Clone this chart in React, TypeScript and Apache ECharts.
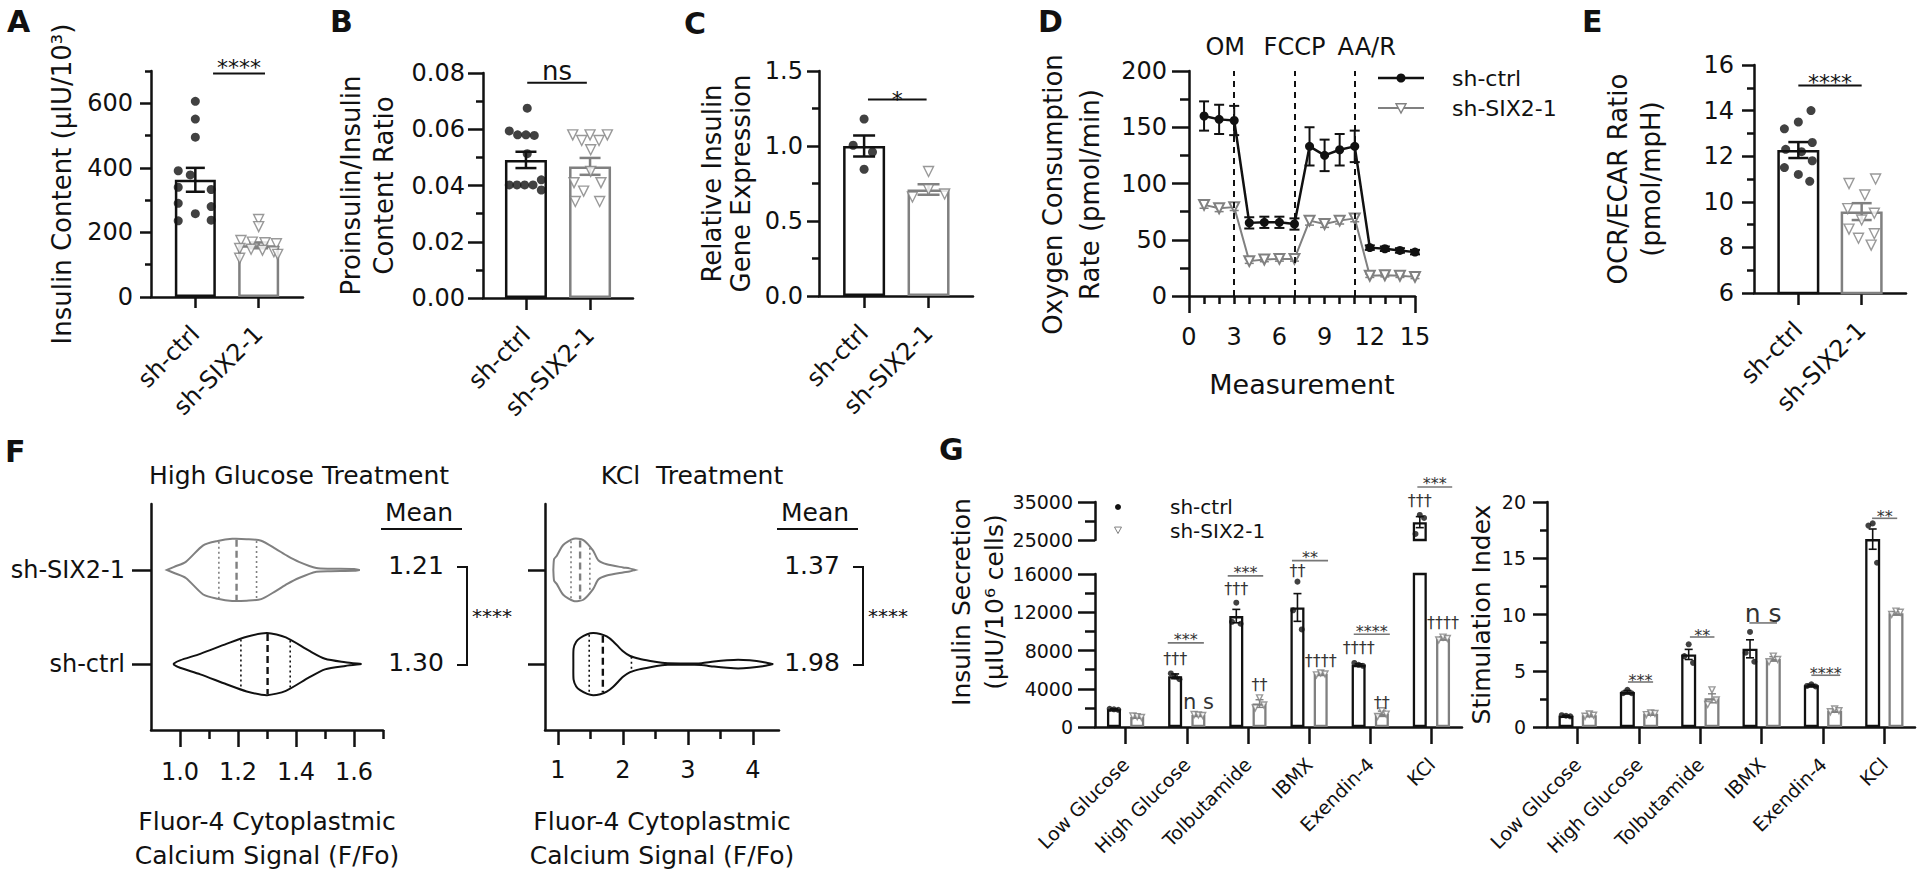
import React, { useEffect, useRef } from 'react';
import * as echarts from 'echarts';

const FONT = 'DejaVu Sans';
const BLACK = '#111111';
const GREY = '#808080';
const SIGGREY = '#777777';

type Sig = [number, number, number, string];
type Tag = [number, number, string];

// ---------- shared ----------
const groups = ['sh-ctrl', 'sh-SIX2-1'];
const groupIdx = [0, 1];

// ---------- A ----------
const aYName = 'Insulin Content (μIU/10³)';
const aYMajor = [0, 200, 400, 600];
const aYMinor = [100, 300, 500, 700];
const aMean = [363, 160];
const aSem = [37, 9];
const aCtrl = [606, 551, 495, 391, 378, 340, 333, 290, 280, 258, 236, 238];
const aCtrlJit = [0, 0, 0, -0.27, -0.08, -0.27, 0.25, -0.27, 0.25, 0, -0.27, 0.25];
const aKd = [240, 218, 175, 170, 168, 165, 150, 148, 145, 140, 132, 120];
const aKdJit = [0, 0, -0.28, -0.1, 0.1, 0.28, -0.3, -0.12, 0.06, 0.24, 0.3, -0.3];
const aSig: Sig[] = [[0.28, 1.1, 692, '****']];

// ---------- B ----------
const bYName = 'Proinsulin/Insulin\nContent Ratio';
const bYMajor = [0, 0.02, 0.04, 0.06, 0.08];
const bYMinor = [0.01, 0.03, 0.05, 0.07];
const bMean = [0.0491, 0.0468];
const bSem = [0.0029, 0.003];
const bCtrl = [0.0675, 0.0594, 0.058, 0.058, 0.0578, 0.0513, 0.0402, 0.0402, 0.0402, 0.0402, 0.042, 0.0384];
const bCtrlJit = [0.02, -0.26, -0.13, 0.0, 0.13, 0.02, -0.26, -0.14, -0.02, 0.11, 0.24, 0.24];
const bKd = [0.058, 0.058, 0.058, 0.056, 0.056, 0.0527, 0.045, 0.041, 0.041, 0.038, 0.0343, 0.0343];
const bKdJit = [-0.27, 0.0, 0.27, -0.13, 0.14, 0.01, 0.01, -0.25, 0.17, -0.1, -0.23, 0.15];
const bSig: Sig[] = [[0.02, 0.95, 0.0765, 'ns']];

// ---------- C ----------
const cYName = 'Relative Insulin\nGene Expression';
const cYMajor = [0, 0.5, 1.0, 1.5];
const cYMinor = [0.25, 0.75, 1.25];
const cMean = [1.0, 0.71];
const cSem = [0.07, 0.035];
const cCtrl = [1.18, 1.005, 0.96, 0.845];
const cCtrlJit = [0.0, -0.17, 0.13, 0.0];
const cKd = [0.83, 0.71, 0.66, 0.68];
const cKdJit = [0.0, 0.0, -0.25, 0.25];
const cSig: Sig[] = [[0.06, 0.97, 1.31, '*']];

// ---------- D ----------
const dYName = 'Oxygen Consumption\nRate (pmol/min)';
const dXName = 'Measurement';
const dX = [1, 2, 3, 4, 5, 6, 7, 8, 9, 10, 11, 12, 13, 14, 15];
const dXLabels = [0, 3, 6, 9, 12, 15];
const dYMajor = [0, 50, 100, 150, 200];
const dYMinor = [25, 75, 125, 175];
const dCtrl = [160, 157, 156, 65, 65.5, 65.5, 64, 133, 125, 130, 133, 43, 42, 40.5, 39];
const dCtrlSem = [13, 13, 13, 5, 5, 5, 5, 17, 14, 14, 14, 2, 2, 2, 2];
const dKd = [81, 78, 79, 31, 32.5, 33, 33, 67, 64, 67, 69, 18, 18.5, 18, 17];
const dKdSem = [3, 3, 3, 2, 2, 2, 2, 4, 3, 3, 3, 1.5, 1.5, 1.5, 1.5];
const dEventX = [3, 7, 11];
const dEventNames = ['OM', 'FCCP', 'AA/R'];

// ---------- E ----------
const eYName = 'OCR/ECAR Ratio\n(pmol/mpH)';
const eYMajor = [6, 8, 10, 12, 14, 16];
const eYMinor = [7, 9, 11, 13, 15];
const eMean = [12.27, 9.57];
const eSem = [0.35, 0.37];
const eCtrl = [14.0, 13.5, 13.2, 12.6, 12.3, 12.2, 11.8, 11.5, 11.2, 10.9];
const eCtrlJit = [0.2, 0.0, -0.22, 0.22, -0.2, 0.05, 0.22, -0.22, 0.0, 0.18];
const eKd = [11.0, 10.8, 10.3, 9.7, 9.5, 9.2, 8.8, 8.6, 8.4, 8.1];
const eKdJit = [0.22, -0.2, 0.05, -0.22, 0.2, 0.0, -0.2, 0.2, -0.05, 0.15];
const eSig: Sig[] = [[0.0, 1.0, 15.1, '****']];

// ---------- F ----------
const fXName = 'Fluor-4 Cytoplastmic\nCalcium Signal (F/Fo)';
const fHgTitle = 'High Glucose Treatment';
const fKclTitle = 'KCl  Treatment';
const fHgXMajor = [1.0, 1.2, 1.4, 1.6];
const fHgXMinor = [1.1, 1.3, 1.5, 1.7];
const fKclXMajor = [1, 2, 3, 4];
const fKclXMinor = [1.5, 2.5, 3.5];
const fHgKdX = [0.955, 0.98, 1.02, 1.08, 1.13, 1.18, 1.23, 1.28, 1.33, 1.37, 1.41, 1.47, 1.52, 1.6, 1.62];
const fHgKdW = [0, 0.1, 0.26, 0.79, 0.93, 1, 0.99, 0.94, 0.68, 0.45, 0.26, 0.06, 0.04, 0.03, 0];
const fHgKdQ = [1.134, 1.195, 1.264];
const fHgCtrlX = [0.979, 1.0, 1.07, 1.16, 1.23, 1.3, 1.365, 1.445, 1.5, 1.57, 1.626];
const fHgCtrlW = [0.02, 0.12, 0.33, 0.65, 0.88, 1, 0.86, 0.43, 0.17, 0.06, 0];
const fHgCtrlQ = [1.21, 1.302, 1.38];
const fHgMean = [1.3, 1.21];
const fKclKdX = [0.928, 0.94, 0.98, 1.08, 1.24, 1.39, 1.54, 1.62, 1.75, 2.0, 2.1, 2.185];
const fKclKdW = [0, 0.35, 0.45, 0.8, 1, 0.96, 0.62, 0.31, 0.18, 0.08, 0.05, 0];
const fKclKdQ = [1.2, 1.34, 1.49];
const fKclCtrlX = [1.236, 1.24, 1.28, 1.34, 1.45, 1.54, 1.65, 1.75, 1.85, 2.0, 2.11, 2.25, 2.42, 2.6, 2.69, 2.9, 3.1, 3.21, 3.4, 3.6, 3.77, 3.95, 4.15, 4.31];
const fKclCtrlW = [0, 0.5, 0.72, 0.84, 0.96, 1, 0.97, 0.89, 0.73, 0.41, 0.26, 0.17, 0.1, 0.04, 0.025, 0.02, 0.02, 0.03, 0.08, 0.12, 0.14, 0.12, 0.07, 0];
const fKclCtrlQ = [1.48, 1.69, 2.13];
const fKclMean = [1.98, 1.37];
const fStars = '****';

// ---------- G ----------
const gCats = ['Low Glucose', 'High Glucose', 'Tolbutamide', 'IBMX', 'Exendin-4', 'KCl'];
const gCatIdx = [0, 1, 2, 3, 4, 5];
const gSecName = 'Insulin Secretion\n(μIU/10⁶ cells)';
const gSecUpperMajor = [25000, 35000];
const gSecUpperMinor = [30000];
const gSecMajor = [0, 4000, 8000, 12000, 16000];
const gSecMinor = [2000, 6000, 10000, 14000];
const gSecCtrl = [1850, 5300, 11600, 12500, 6500, 29700];
const gSecCtrlSem = [50, 250, 700, 1450, 100, 1450];
const gSecKd = [1080, 1250, 2450, 5550, 1380, 9250];
const gSecKdSem = [90, 90, 400, 90, 280, 150];
const gSecCtrlPts = [[1900, 1850, 1800], [5600, 5300, 5000], [11000, 13000, 10800], [12200, 15200, 10200], [6700, 6500, 6400], [26600, 31600, 30800]];
const gSecKdPts = [[1150, 1080, 1000], [1300, 1250, 1200], [2000, 3050, 2300], [5450, 5650, 5550], [1100, 1700, 1350], [9100, 9400, 9250]];
const gSecSig: Sig[] = [[0.69, 1.28, 8800, '***'], [1.67, 2.25, 15800, '***'], [2.72, 3.31, 17400, '**'], [3.73, 4.32, 9700, '****'], [4.77, 5.34, 38950, '***']];
const gSecTags: Tag[] = [[0.81, 7200, '†††'], [1.81, 14500, '†††'], [2.19, 4400, '††'], [2.81, 16400, '††'], [3.19, 7000, '††††'], [3.81, 8300, '††††'], [4.19, 2600, '††'], [4.81, 35500, '†††'], [5.19, 10900, '††††']];
const gSecNs: Tag[] = [[1.19, 2600, 'n s']];
const gStimName = 'Stimulation Index';
const gStimMajor = [0, 5, 10, 15, 20];
const gStimMinor = [2.5, 7.5, 12.5, 17.5];
const gStimCtrl = [1.0, 3.1, 6.45, 6.95, 3.7, 16.7];
const gStimCtrlSem = [0.03, 0.15, 0.45, 0.8, 0.08, 0.9];
const gStimKd = [1.05, 1.18, 2.55, 6.05, 1.45, 10.1];
const gStimKdSem = [0.08, 0.08, 0.4, 0.2, 0.1, 0.15];
const gStimCtrlPts = [[1.05, 1.0, 0.95], [3.0, 3.3, 3.0], [6.3, 7.35, 5.7], [6.6, 8.45, 5.8], [3.65, 3.8, 3.6], [17.9, 18.1, 14.6]];
const gStimKdPts = [[0.95, 1.15, 1.05], [1.1, 1.25, 1.2], [2.0, 3.3, 2.4], [5.8, 6.3, 6.0], [1.35, 1.6, 1.45], [10.0, 10.3, 10.2]];
const gStimSig: Sig[] = [[0.82, 1.23, 4.0, '***'], [1.83, 2.23, 8.0, '**'], [3.81, 4.28, 4.6, '****'], [4.8, 5.21, 18.55, '**']];
const gStimNs: Sig[] = [[2.8, 3.25, 9.25, 'n s']];
const gJit = [-0.07, 0, 0.07];

function buildOption() {
  const grid: any[] = [];
  const xAxis: any[] = [];
  const yAxis: any[] = [];
  const series: any[] = [];
  const graphic: any[] = [];
  const ls = (w: number, c = BLACK) => ({ color: c, width: w });

  const addGrid = (left: number, top: number, width: number, height: number) => {
    grid.push({ left, top, width, height, show: false, containLabel: false });
    return grid.length - 1;
  };

  function addAxis(list: any[], g: number, c: any) {
    const lw = c.lw ?? 2.5;
    const base: any = {
      type: 'value', gridIndex: g, min: c.min, max: c.max, position: c.position, offset: 0,
      silent: true, splitLine: { show: false }, axisPointer: { show: false },
      axisLine: { show: true, onZero: false, lineStyle: ls(lw) },
      axisTick: c.ticks ? { show: true, customValues: c.ticks, length: c.tickLen ?? 12, lineStyle: ls(lw) } : { show: false },
      axisLabel: c.labels
        ? { show: true, customValues: c.labels, formatter: c.fmt ?? ((v: number) => String(v)), fontSize: c.fontSize ?? 24, color: BLACK, fontFamily: FONT, margin: c.margin ?? 10, rotate: c.rotate ?? 0 }
        : { show: false },
    };
    if (c.name) {
      Object.assign(base, {
        name: c.name, nameLocation: 'middle', nameGap: c.nameGap,
        nameTextStyle: { fontSize: c.nameSize ?? 26, fontFamily: FONT, color: BLACK, lineHeight: c.nameLH ?? 32, padding: c.namePad ?? 0 },
      });
    }
    list.push(base);
    const idx = list.length - 1;
    if (c.minor) {
      list.push({
        type: 'value', gridIndex: g, min: c.min, max: c.max, position: c.position, offset: 0, silent: true,
        splitLine: { show: false }, axisLine: { show: false, onZero: false }, axisLabel: { show: false }, axisPointer: { show: false },
        axisTick: { show: true, customValues: c.minor, length: c.minorLen ?? 7, lineStyle: ls(lw) },
      });
    }
    return idx;
  }

  function bars(xi: number, yi: number, xs: number[], vals: number[], colors: string[], width: number, bw = 2.5) {
    series.push({
      type: 'bar', xAxisIndex: xi, yAxisIndex: yi, barWidth: width, z: 2, silent: true, clip: true,
      data: vals.map((v, i) => ({ value: [xs[i], v], itemStyle: { color: '#ffffff', borderColor: colors[i], borderWidth: bw } })),
    });
  }

  function errs(xi: number, yi: number, xs: number[], means: number[], sems: number[], colors: string[], cap: number, w: number) {
    series.push({
      type: 'custom', xAxisIndex: xi, yAxisIndex: yi, z: 3, silent: true,
      data: means.map((m, i) => [xs[i], m, sems[i]]),
      renderItem: (p: any, api: any) => {
        const x = api.value(0), m = api.value(1), s = api.value(2);
        const t = api.coord([x, m + s]);
        const b = api.coord([x, m - s]);
        const st = { stroke: colors[p.dataIndex], lineWidth: w, fill: null };
        return {
          type: 'group', children: [
            { type: 'line', shape: { x1: t[0], y1: t[1], x2: b[0], y2: b[1] }, style: st },
            { type: 'line', shape: { x1: t[0] - cap / 2, y1: t[1], x2: t[0] + cap / 2, y2: t[1] }, style: st },
            { type: 'line', shape: { x1: b[0] - cap / 2, y1: b[1], x2: b[0] + cap / 2, y2: b[1] }, style: st },
          ],
        };
      },
    });
  }

  function dots(xi: number, yi: number, pts: number[][], tri: boolean, size: number) {
    series.push({
      type: 'scatter', xAxisIndex: xi, yAxisIndex: yi, z: 4, silent: true, symbolSize: size,
      symbol: tri ? 'triangle' : 'circle', symbolRotate: tri ? 180 : 0,
      itemStyle: tri ? { color: '#ffffff', borderColor: GREY, borderWidth: 1.4 } : { color: BLACK },
      data: pts,
    });
  }

  function sigs(xi: number, yi: number, list: Sig[], o: { color: string; lineColor?: string; size: number; dy: number; lw: number }) {
    series.push({
      type: 'custom', xAxisIndex: xi, yAxisIndex: yi, z: 6, silent: true,
      data: list.map((s) => [s[0], s[2]]),
      renderItem: (p: any, api: any) => {
        const s = list[p.dataIndex];
        const a = api.coord([s[0], s[2]]);
        const b = api.coord([s[1], s[2]]);
        return {
          type: 'group', children: [
            { type: 'line', shape: { x1: a[0], y1: a[1], x2: b[0], y2: b[1] }, style: { stroke: o.lineColor ?? o.color, lineWidth: o.lw } },
            { type: 'text', x: (a[0] + b[0]) / 2, y: a[1] - o.dy, style: { text: s[3], align: 'center', verticalAlign: 'middle', fontSize: o.size, fontFamily: FONT, fill: o.color } },
          ],
        };
      },
    });
  }

  function tags(xi: number, yi: number, list: Tag[], o: { color: string; size: number }) {
    series.push({
      type: 'custom', xAxisIndex: xi, yAxisIndex: yi, z: 6, silent: true,
      data: list.map((s) => [s[0], s[1]]),
      renderItem: (p: any, api: any) => {
        const s = list[p.dataIndex];
        const a = api.coord([s[0], s[1]]);
        return { type: 'text', x: a[0], y: a[1], style: { text: s[2], align: 'center', verticalAlign: 'middle', fontSize: o.size, fontFamily: FONT, fill: o.color } };
      },
    });
  }

  function violins(xi: number, yi: number, list: any[], half: number) {
    series.push({
      type: 'custom', xAxisIndex: xi, yAxisIndex: yi, z: 3, silent: true,
      data: list.map((v) => [v.q[1], v.y]),
      renderItem: (p: any, api: any) => {
        const v = list[p.dataIndex];
        const up = v.xs.map((x: number, i: number) => api.coord([x, v.y + v.ws[i] * half]));
        const dn = v.xs.map((x: number, i: number) => api.coord([x, v.y - v.ws[i] * half])).reverse();
        const wAt = (x: number) => {
          for (let i = 0; i < v.xs.length - 1; i++) {
            if (x >= v.xs[i] && x <= v.xs[i + 1]) {
              const t = (x - v.xs[i]) / (v.xs[i + 1] - v.xs[i]);
              return v.ws[i] + t * (v.ws[i + 1] - v.ws[i]);
            }
          }
          return 0;
        };
        const q = (x: number, dash: number[], lw: number) => {
          const w = wAt(x) * half * 0.97;
          const a = api.coord([x, v.y + w]);
          const b = api.coord([x, v.y - w]);
          return { type: 'line', shape: { x1: a[0], y1: a[1], x2: b[0], y2: b[1] }, style: { stroke: v.color, lineWidth: lw, lineDash: dash } };
        };
        return {
          type: 'group', children: [
            { type: 'polygon', shape: { points: up.concat(dn), smooth: 0.25 }, style: { fill: 'none', stroke: v.color, lineWidth: 2 } },
            q(v.q[0], [2, 3], 1.6), q(v.q[1], [7, 4], 2.4), q(v.q[2], [2, 3], 1.6),
          ],
        };
      },
    });
  }

  function meanBlock(xi: number, yi: number, xMax: number, yTop: number, means: number[], stars: string) {
    series.push({
      type: 'custom', xAxisIndex: xi, yAxisIndex: yi, z: 6, silent: true, data: [[xMax, 0]],
      renderItem: (p: any, api: any) => {
        const p0 = api.coord([xMax, 0]);
        const p1 = api.coord([xMax, 1]);
        const pt = api.coord([xMax, yTop]);
        const X = p0[0];
        const txt = (x: number, y: number, t: string, size: number) => ({ type: 'text', x, y, style: { text: t, align: 'center', verticalAlign: 'middle', fontSize: size, fontFamily: FONT, fill: BLACK } });
        const st = { stroke: BLACK, lineWidth: 2, fill: null };
        return {
          type: 'group', children: [
            txt(X + 36, pt[1] + 8, 'Mean', 25),
            { type: 'line', shape: { x1: X - 2, y1: pt[1] + 25, x2: X + 79, y2: pt[1] + 25 }, style: st },
            txt(X + 33, p1[1] - 4, means[1].toFixed(2), 25),
            txt(X + 33, p0[1] - 2, means[0].toFixed(2), 25),
            { type: 'polyline', shape: { points: [[X + 74, p1[1] - 3], [X + 84, p1[1] - 3], [X + 84, p0[1] + 1], [X + 74, p0[1] + 1]] }, style: st },
            txt(X + 109, (p0[1] + p1[1]) / 2 - 1, stars, 20),
          ],
        };
      },
    });
  }

  function barPanel(xi: number, yi: number, mean: number[], sem: number[], ctrl: number[], cj: number[], kd: number[], kj: number[], bw: number, cap: number) {
    bars(xi, yi, groupIdx, mean, [BLACK, GREY], bw);
    errs(xi, yi, groupIdx, mean, sem, [BLACK, GREY], cap, 2.5);
    dots(xi, yi, ctrl.map((v, i) => [cj[i], v]), false, 9);
    dots(xi, yi, kd.map((v, i) => [1 + kj[i], v]), true, 10);
  }

  const label = (t: string, x: number, y: number, size = 30, weight = 'bold', align = 'left', rotation = 0, lh?: number) =>
    graphic.push({ type: 'text', x, y, rotation, silent: true, style: { text: t, fontSize: size, fontWeight: weight, fontFamily: FONT, fill: BLACK, align, verticalAlign: align === 'left' ? 'top' : 'middle', lineHeight: lh } });
  const legText = (t: string, x: number, y: number, size: number) =>
    graphic.push({ type: 'text', x, y, silent: true, style: { text: t, fontSize: size, fontFamily: FONT, fill: BLACK, align: 'left', verticalAlign: 'middle' } });
  const downTri = (cx: number, cy: number, s: number, lw: number) =>
    graphic.push({ type: 'polygon', silent: true, shape: { points: [[cx - s / 2, cy - s * 0.42], [cx + s / 2, cy - s * 0.42], [cx, cy + s * 0.5]] }, style: { fill: '#ffffff', stroke: GREY, lineWidth: lw } });

  // ---- D ----
  {
    const g = addGrid(1189, 71, 226, 225);
    const xi = addAxis(xAxis, g, { min: 0, max: 15, position: 'bottom', ticks: dX.filter((v) => v < 15), tickLen: 8, labels: dXLabels, minor: [0, 15], minorLen: 17, margin: 29, name: dXName, nameGap: 72, nameSize: 27 });
    const yi = addAxis(yAxis, g, { min: 0, max: 200, position: 'left', ticks: dYMajor, tickLen: 17, labels: dYMajor, minor: dYMinor, minorLen: 9, margin: 22, name: dYName, nameGap: 81, nameLH: 37, namePad: [0, 22, 0, 0] });
    series.push({
      type: 'line', name: 'sh-ctrl', xAxisIndex: xi, yAxisIndex: yi, z: 5, silent: true,
      data: dX.map((x, i) => [x, dCtrl[i]]), symbol: 'circle', symbolSize: 9,
      itemStyle: { color: BLACK }, lineStyle: { color: BLACK, width: 2.5 },
      markLine: {
        silent: true, symbol: ['none', 'none'], animation: false,
        lineStyle: { type: [6, 5], color: BLACK, width: 2 },
        label: { show: false },
        data: dEventX.map((x, i) => ({ xAxis: x, name: dEventNames[i] })),
      },
    });
    series.push({
      type: 'line', name: 'sh-SIX2-1', xAxisIndex: xi, yAxisIndex: yi, z: 4, silent: true,
      data: dX.map((x, i) => [x, dKd[i]]), symbol: 'emptyTriangle', symbolRotate: 180, symbolSize: 10,
      itemStyle: { color: GREY, borderWidth: 1.4 }, lineStyle: { color: GREY, width: 2 },
    });
    errs(xi, yi, dX, dCtrl, dCtrlSem, dX.map(() => BLACK), 10, 2);
    errs(xi, yi, dX, dKd, dKdSem, dX.map(() => GREY), 9, 1.5);
    const EVENT_DX = [-9, 0, 12];
    const yMax = dYMajor[dYMajor.length - 1];
    series.push({
      type: 'custom', xAxisIndex: xi, yAxisIndex: yi, z: 6, silent: true,
      data: dEventX.map((x) => [x, yMax]),
      renderItem: (p: any, api: any) => {
        const c = api.coord([dEventX[p.dataIndex], yMax]);
        return { type: 'text', x: c[0] + EVENT_DX[p.dataIndex], y: c[1] - 24, style: { text: dEventNames[p.dataIndex], align: 'center', verticalAlign: 'middle', fontSize: 24, fontFamily: FONT, fill: BLACK } };
      },
    });
    // legend drawn as graphic
    graphic.push({ type: 'line', silent: true, shape: { x1: 1378, y1: 78, x2: 1424, y2: 78 }, style: { stroke: BLACK, lineWidth: 2.5 } });
    graphic.push({ type: 'circle', silent: true, shape: { cx: 1401, cy: 78, r: 4.5 }, style: { fill: BLACK } });
    graphic.push({ type: 'line', silent: true, shape: { x1: 1378, y1: 108, x2: 1424, y2: 108 }, style: { stroke: GREY, lineWidth: 2 } });
    downTri(1401, 108, 10, 1.4);
    legText(groups[0], 1452, 78, 22);
    legText(groups[1], 1452, 108, 22);
  }

  // ---- A ----
  {
    const g = addGrid(151, 71, 152, 226);
    const xi = addAxis(xAxis, g, { min: -0.7, max: 1.7, position: 'bottom', ticks: groupIdx, tickLen: 11, labels: groupIdx, fmt: (v: number) => groups[Math.round(v)], rotate: 45, margin: 33 });
    const yi = addAxis(yAxis, g, { min: 0, max: 700, position: 'left', ticks: aYMajor, tickLen: 11, labels: aYMajor, minor: aYMinor, minorLen: 6, margin: 18, name: aYName, nameGap: 73 });
    barPanel(xi, yi, aMean, aSem, aCtrl, aCtrlJit, aKd, aKdJit, 41, 19);
    sigs(xi, yi, aSig, { color: BLACK, size: 22, dy: 6, lw: 2 });
  }
  // ---- B ----
  {
    const g = addGrid(483, 73, 150, 225);
    const xi = addAxis(xAxis, g, { min: -0.67, max: 1.67, position: 'bottom', ticks: groupIdx, tickLen: 12, labels: groupIdx, fmt: (v: number) => groups[Math.round(v)], rotate: 45, margin: 33 });
    const yi = addAxis(yAxis, g, { min: 0, max: 0.08, position: 'left', ticks: bYMajor, tickLen: 15, labels: bYMajor, fmt: (v: number) => v.toFixed(2), minor: bYMinor, minorLen: 7, margin: 18, name: bYName, nameGap: 83, nameLH: 33 });
    barPanel(xi, yi, bMean, bSem, bCtrl, bCtrlJit, bKd, bKdJit, 42, 21);
    sigs(xi, yi, bSig, { color: BLACK, size: 26, dy: 12, lw: 2 });
  }
  // ---- C ----
  {
    const g = addGrid(819, 71, 154, 225);
    const xi = addAxis(xAxis, g, { min: -0.7, max: 1.69, position: 'bottom', ticks: groupIdx, tickLen: 12, labels: groupIdx, fmt: (v: number) => groups[Math.round(v)], rotate: 45, margin: 33 });
    const yi = addAxis(yAxis, g, { min: 0, max: 1.5, position: 'left', ticks: cYMajor, tickLen: 12, labels: cYMajor, fmt: (v: number) => v.toFixed(1), minor: cYMinor, minorLen: 7, margin: 16, name: cYName, nameGap: 64, nameLH: 29 });
    barPanel(xi, yi, cMean, cSem, cCtrl, cCtrlJit, cKd, cKdJit, 42, 22);
    sigs(xi, yi, cSig, { color: BLACK, size: 22, dy: 0, lw: 2 });
  }
  // ---- E ----
  {
    const g = addGrid(1754, 65, 152, 228);
    const xi = addAxis(xAxis, g, { min: -0.7, max: 1.7, position: 'bottom', ticks: groupIdx, tickLen: 12, labels: groupIdx, fmt: (v: number) => groups[Math.round(v)], rotate: 45, margin: 33 });
    const yi = addAxis(yAxis, g, { min: 6, max: 16, position: 'left', ticks: eYMajor, tickLen: 12, labels: eYMajor, minor: eYMinor, minorLen: 7, margin: 20, name: eYName, nameGap: 87, nameLH: 33 });
    barPanel(xi, yi, eMean, eSem, eCtrl, eCtrlJit, eKd, eKdJit, 42, 20);
    sigs(xi, yi, eSig, { color: BLACK, size: 22, dy: 3, lw: 2 });
  }

  // ---- F left ----
  {
    const g = addGrid(151, 504, 232, 226);
    const xi = addAxis(xAxis, g, { min: 0.9, max: 1.7, position: 'bottom', ticks: fHgXMajor, tickLen: 17, labels: fHgXMajor, fmt: (v: number) => v.toFixed(1), minor: fHgXMinor, minorLen: 9, margin: 30, name: fXName, nameGap: 74, nameSize: 25, nameLH: 34 });
    const yi = addAxis(yAxis, g, { min: -0.7, max: 1.7, position: 'left', ticks: groupIdx, tickLen: 19, labels: groupIdx, fmt: (v: number) => groups[Math.round(v)], margin: 26 });
    violins(xi, yi, [
      { y: 1, xs: fHgKdX, ws: fHgKdW, q: fHgKdQ, color: GREY },
      { y: 0, xs: fHgCtrlX, ws: fHgCtrlW, q: fHgCtrlQ, color: BLACK },
    ], 0.33);
    meanBlock(xi, yi, 1.7, 1.7, fHgMean, fStars);
  }
  // ---- F right ----
  {
    const g = addGrid(545, 504, 234, 226);
    const xi = addAxis(xAxis, g, { min: 0.8, max: 4.4, position: 'bottom', ticks: fKclXMajor, tickLen: 15, labels: fKclXMajor, minor: fKclXMinor, minorLen: 9, margin: 28, name: fXName, nameGap: 74, nameSize: 25, nameLH: 34 });
    const yi = addAxis(yAxis, g, { min: -0.7, max: 1.7, position: 'left', ticks: groupIdx, tickLen: 17 });
    violins(xi, yi, [
      { y: 1, xs: fKclKdX, ws: fKclKdW, q: fKclKdQ, color: GREY },
      { y: 0, xs: fKclCtrlX, ws: fKclCtrlW, q: fKclCtrlQ, color: BLACK },
    ], 0.33);
    meanBlock(xi, yi, 4.4, 1.7, fKclMean, fStars);
  }

  const OFF = 0.19;
  // ---- G left (broken axis) ----
  {
    const gU = addGrid(1095, 502, 367, 38);
    const gL = addGrid(1095, 574, 367, 153);
    xAxis.push({ type: 'value', gridIndex: gU, min: -0.5, max: 5.5, show: false });
    const xU = xAxis.length - 1;
    const yU = addAxis(yAxis, gU, { min: 25000, max: 35000, position: 'left', ticks: gSecUpperMajor, tickLen: 17, labels: gSecUpperMajor, minor: gSecUpperMinor, minorLen: 10, margin: 22, fontSize: 19 });
    const xL = addAxis(xAxis, gL, { min: -0.5, max: 5.5, position: 'bottom', ticks: gCatIdx, tickLen: 17, labels: gCatIdx, fmt: (v: number) => gCats[Math.round(v)], rotate: 45, margin: 34, fontSize: 19 });
    const yL = addAxis(yAxis, gL, { min: 0, max: 16000, position: 'left', ticks: gSecMajor, tickLen: 17, labels: gSecMajor, minor: gSecMinor, minorLen: 10, margin: 22, fontSize: 19 });
    const LIM = gSecUpperMajor[0];
    const xsC = gCatIdx.map((i) => i - OFF);
    const xsK = gCatIdx.map((i) => i + OFF);
    bars(xL, yL, [...xsC, ...xsK], [...gSecCtrl, ...gSecKd], [...gCats.map(() => BLACK), ...gCats.map(() => GREY)], 14, 2.3);
    const up = gCatIdx.filter((i) => gSecCtrl[i] >= LIM);
    const lo = gCatIdx.filter((i) => gSecCtrl[i] < LIM);
    bars(xU, yU, up.map((i) => xsC[i]), up.map((i) => gSecCtrl[i]), up.map(() => BLACK), 14, 2.3);
    errs(xL, yL, lo.map((i) => xsC[i]), lo.map((i) => gSecCtrl[i]), lo.map((i) => gSecCtrlSem[i]), lo.map(() => BLACK), 8, 1.6);
    errs(xU, yU, up.map((i) => xsC[i]), up.map((i) => gSecCtrl[i]), up.map((i) => gSecCtrlSem[i]), up.map(() => BLACK), 8, 1.6);
    errs(xL, yL, xsK, gSecKd, gSecKdSem, gCats.map(() => GREY), 8, 1.4);
    const cp: number[][] = [];
    gSecCtrlPts.forEach((arr, i) => arr.forEach((v, j) => cp.push([xsC[i] + gJit[j], v])));
    dots(xL, yL, cp.filter((p) => p[1] < LIM), false, 6);
    dots(xU, yU, cp.filter((p) => p[1] >= LIM), false, 6);
    const kp: number[][] = [];
    gSecKdPts.forEach((arr, i) => arr.forEach((v, j) => kp.push([xsK[i] + gJit[j], v])));
    dots(xL, yL, kp, true, 6);
    const so = { color: '#333333', lineColor: SIGGREY, size: 16, dy: 3, lw: 1.6 };
    sigs(xL, yL, gSecSig.filter((s) => s[2] < LIM), so);
    sigs(xU, yU, gSecSig.filter((s) => s[2] >= LIM), so);
    tags(xL, yL, gSecTags.filter((s) => s[1] < LIM), { color: '#333333', size: 16 });
    tags(xU, yU, gSecTags.filter((s) => s[1] >= LIM), { color: '#333333', size: 16 });
    tags(xL, yL, gSecNs, { color: '#333333', size: 21 });
    label(gSecName, 978, 602, 25, 'normal', 'center', Math.PI / 2, 33);
    // legend (graphic)
    graphic.push({ type: 'circle', silent: true, shape: { cx: 1118, cy: 507, r: 3 }, style: { fill: BLACK } });
    downTri(1118, 530, 7, 1);
    legText(groups[0], 1170, 507, 20);
    legText(groups[1], 1170, 531, 20);
  }
  // ---- G right ----
  {
    const g = addGrid(1547, 502, 368, 225);
    const xi = addAxis(xAxis, g, { min: -0.5, max: 5.5, position: 'bottom', ticks: gCatIdx, tickLen: 17, labels: gCatIdx, fmt: (v: number) => gCats[Math.round(v)], rotate: 45, margin: 34, fontSize: 19 });
    const yi = addAxis(yAxis, g, { min: 0, max: 20, position: 'left', ticks: gStimMajor, tickLen: 14, labels: gStimMajor, minor: gStimMinor, minorLen: 7, margin: 21, fontSize: 19, name: gStimName, nameGap: 47, nameSize: 25 });
    const xsC = gCatIdx.map((i) => i - OFF);
    const xsK = gCatIdx.map((i) => i + OFF);
    bars(xi, yi, [...xsC, ...xsK], [...gStimCtrl, ...gStimKd], [...gCats.map(() => BLACK), ...gCats.map(() => GREY)], 15, 2.3);
    errs(xi, yi, xsC, gStimCtrl, gStimCtrlSem, gCats.map(() => BLACK), 8, 1.6);
    errs(xi, yi, xsK, gStimKd, gStimKdSem, gCats.map(() => GREY), 8, 1.4);
    const cp: number[][] = [];
    gStimCtrlPts.forEach((arr, i) => arr.forEach((v, j) => cp.push([xsC[i] + gJit[j], v])));
    dots(xi, yi, cp, false, 6);
    const kp: number[][] = [];
    gStimKdPts.forEach((arr, i) => arr.forEach((v, j) => kp.push([xsK[i] + gJit[j], v])));
    dots(xi, yi, kp, true, 6);
    sigs(xi, yi, gStimSig, { color: '#333333', lineColor: SIGGREY, size: 16, dy: 2, lw: 1.6 });
    sigs(xi, yi, gStimNs, { color: '#333333', lineColor: SIGGREY, size: 25, dy: 9, lw: 1.6 });
  }

  // panel letters and subtitles
  label('A', 7, 6);
  label('B', 330, 6);
  label('C', 684, 8);
  label('D', 1038, 6);
  label('E', 1582, 6);
  label('F', 5, 436);
  label('G', 939, 434);
  label(fHgTitle, 299, 475, 25, 'normal', 'center');
  label(fKclTitle, 692, 475, 25, 'normal', 'center');

  return {
    animation: false,
    backgroundColor: '#ffffff',
    textStyle: { fontFamily: FONT, color: BLACK },
    grid, xAxis, yAxis, series, graphic,
  };
}

export default function App() {
  const ref = useRef<HTMLDivElement>(null);
  useEffect(() => {
    if (!ref.current) return;
    const chart = echarts.init(ref.current, undefined, { renderer: 'svg' });
    chart.setOption(buildOption() as any);
    return () => chart.dispose();
  }, []);
  return <div ref={ref} style={{ position: 'fixed', left: 0, top: 0, width: 1920, height: 880, background: '#ffffff' }} />;
}
